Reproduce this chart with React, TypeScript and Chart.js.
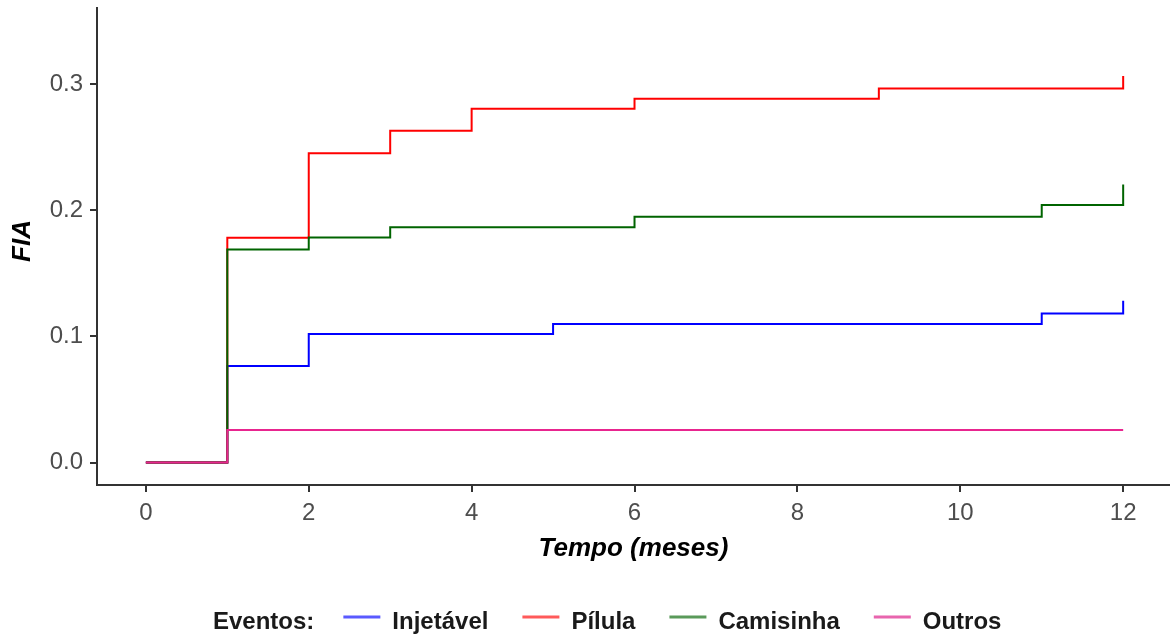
import React, { useEffect, useRef } from "react";
import { Chart, registerables } from "chart.js";

Chart.register(...registerables);

// Cumulative incidence (FIA) by event type, months 0–12
const injetavelTempo = [0, 1, 2, 5, 11, 12];
const injetavelFIA = [0, 0.0765, 0.1018, 0.1097, 0.1182, 0.1282];

const pilulaTempo = [0, 1, 2, 3, 4, 6, 9, 12];
const pilulaFIA = [0, 0.1781, 0.245, 0.2629, 0.2804, 0.2883, 0.2965, 0.3063];

const camisinhaTempo = [0, 1, 2, 3, 6, 11, 12];
const camisinhaFIA = [0, 0.1689, 0.1784, 0.1864, 0.1948, 0.204, 0.2204];

const outrosTempo = [0, 1, 12];
const outrosFIA = [0, 0.0258, 0.0258];

const xTickValues = [0, 2, 4, 6, 8, 10, 12];
const yTickValues = [0, 0.1, 0.2, 0.3];
const yTickLabels = ["0.0", "0.1", "0.2", "0.3"];

const legendTitle = "Eventos:";
const seriesNames = ["Injetável", "Pílula", "Camisinha", "Outros"];
const seriesColors = ["#0000FF", "#FF0000", "#006400", "#E8258F"];
const legendKeyColors = ["#5A5AFF", "#FF5A5A", "#5A9A5A", "#E865AE"];

const xTitle = "Tempo (meses)";
const yTitle = "FIA";

const FONT = '"Liberation Sans", Arial, sans-serif';

const toPoints = (xs: number[], ys: number[]) => xs.map((x, i) => ({ x, y: ys[i] }));

const annotations = {
  id: "annotations",
  afterDraw(chart: any) {
    const ctx = chart.ctx as CanvasRenderingContext2D;
    const area = chart.chartArea;
    ctx.save();
    ctx.fillStyle = "#000000";

    // axis titles
    ctx.font = `italic bold 26px ${FONT}`;
    ctx.textAlign = "center";
    ctx.textBaseline = "middle";
    ctx.fillText(xTitle, (area.left + area.right) / 2, 549);

    ctx.save();
    ctx.translate(23, 241);
    ctx.rotate(-Math.PI / 2);
    ctx.fillText(yTitle, 0, 0);
    ctx.restore();

    // legend row
    ctx.font = `bold 24px ${FONT}`;
    ctx.textAlign = "left";
    ctx.textBaseline = "alphabetic";
    const baseline = 629;
    const keyY = 617;
    let x = 213;
    ctx.fillStyle = "#1A1A1A";
    ctx.fillText(legendTitle, x, baseline);
    x += ctx.measureText(legendTitle).width + 29;
    seriesNames.forEach((name, i) => {
      ctx.strokeStyle = legendKeyColors[i];
      ctx.lineWidth = 3;
      ctx.beginPath();
      ctx.moveTo(x, keyY);
      ctx.lineTo(x + 37, keyY);
      ctx.stroke();
      x += 37 + 12;
      ctx.fillStyle = "#1A1A1A";
      ctx.fillText(name, x, baseline);
      x += ctx.measureText(name).width + 34;
    });
    ctx.restore();
  },
};

export default function App() {
  const canvasRef = useRef<HTMLCanvasElement | null>(null);

  useEffect(() => {
    const canvas = canvasRef.current;
    if (!canvas) return;

    const series = [
      { tempo: injetavelTempo, fia: injetavelFIA },
      { tempo: pilulaTempo, fia: pilulaFIA },
      { tempo: camisinhaTempo, fia: camisinhaFIA },
      { tempo: outrosTempo, fia: outrosFIA },
    ];

    // later series are drawn on top (Outros uppermost)
    const datasets = series.map((s, i) => ({
      label: seriesNames[i],
      data: toPoints(s.tempo, s.fia),
      borderColor: seriesColors[i],
      backgroundColor: seriesColors[i],
      borderWidth: 2,
      pointRadius: 0,
      fill: false,
      stepped: true as const,
      order: seriesNames.length - i,
    }));

    const chart = new Chart(canvas, {
      type: "line",
      data: { datasets },
      options: {
        animation: false,
        responsive: false,
        maintainAspectRatio: false,
        devicePixelRatio: 1,
        layout: { padding: { top: 8, left: 0, right: 0, bottom: 0 } },
        plugins: {
          legend: { display: false },
          tooltip: { enabled: false },
        },
        scales: {
          x: {
            type: "linear",
            min: -0.6,
            max: 12.575,
            afterBuildTicks: (scale: any) => {
              scale.ticks = xTickValues.map((v) => ({ value: v }));
            },
            afterFit: (scale: any) => {
              scale.height = 152;
              scale.paddingLeft = 0;
              scale.paddingRight = 0;
            },
            ticks: {
              color: "#4D4D4D",
              font: { family: FONT, size: 24 },
              padding: 7,
              maxRotation: 0,
              autoSkip: false,
              callback: (v: any) => String(v),
            },
            grid: {
              display: true,
              drawOnChartArea: false,
              drawTicks: true,
              tickLength: 7,
              color: "#333333",
              lineWidth: 2,
            },
            border: { display: true, color: "#333333", width: 2 },
          },
          y: {
            type: "linear",
            min: -0.0178,
            max: 0.3602,
            afterBuildTicks: (scale: any) => {
              scale.ticks = yTickValues.map((v) => ({ value: v }));
            },
            afterFit: (scale: any) => {
              scale.width = 97;
              scale.paddingTop = 0;
              scale.paddingBottom = 0;
            },
            ticks: {
              color: "#4D4D4D",
              font: { family: FONT, size: 24 },
              padding: 7,
              autoSkip: false,
              callback: (_v: any, i: number) => yTickLabels[i],
            },
            grid: {
              display: true,
              drawOnChartArea: false,
              drawTicks: true,
              tickLength: 7,
              color: "#333333",
              lineWidth: 2,
            },
            border: { display: true, color: "#333333", width: 2 },
          },
        },
      },
      plugins: [annotations],
    });

    return () => chart.destroy();
  }, []);

  return (
    <div
      style={{
        position: "absolute",
        left: 0,
        top: 0,
        width: 1170,
        height: 637,
        background: "#FFFFFF",
      }}
    >
      <canvas ref={canvasRef} width={1170} height={637} />
    </div>
  );
}
